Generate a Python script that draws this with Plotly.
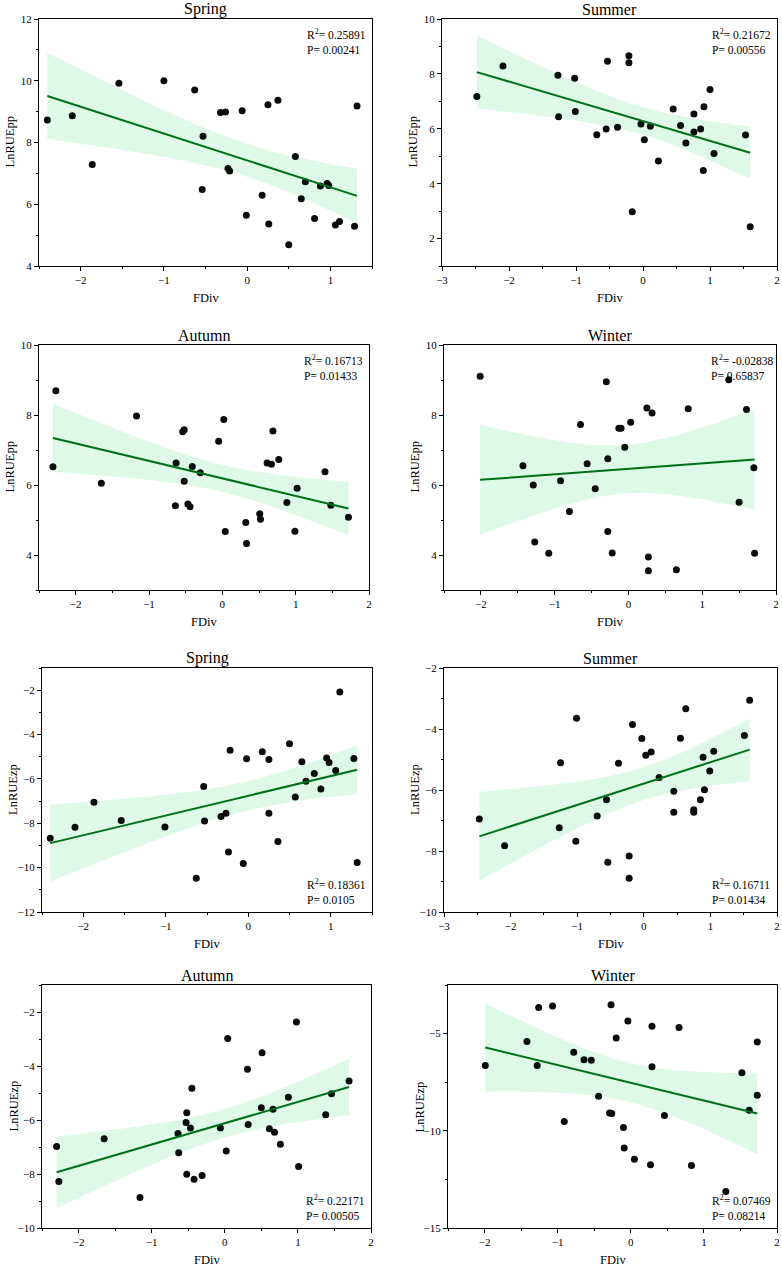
import numpy as np
import plotly.graph_objects as go

W, H = 782, 1267

# ---- data ----
seasons = ["Spring", "Summer", "Autumn", "Winter"]

spring_fdiv_pp = [-2.40, -2.10, -1.86, -1.54, -1.00, -0.63, -0.53, -0.54, -0.32, -0.26, -0.23, -0.21, -0.06, -0.01, 0.18,
                  0.25, 0.26, 0.37, 0.50, 0.58, 0.65, 0.70, 0.81, 0.88, 0.96, 0.98, 1.06, 1.11, 1.29, 1.32]
spring_pp = [8.73, 8.87, 7.29, 9.92, 10.0, 9.70, 8.20, 6.48, 8.97, 8.99, 7.16, 7.08, 9.03, 5.64, 6.29,
             9.22, 5.36, 9.37, 4.69, 7.55, 6.18, 6.73, 5.54, 6.59, 6.67, 6.61, 5.33, 5.44, 5.29, 9.18]

summer_fdiv_pp = [-2.48, -2.09, -1.27, -1.26, -1.02, -1.01, -0.69, -0.55, -0.53, -0.38, -0.21, -0.21, -0.16, -0.03, 0.02,
                  0.11, 0.23, 0.45, 0.56, 0.64, 0.76, 0.76, 0.86, 0.90, 0.91, 1.00, 1.06, 1.53, 1.60]
summer_pp = [7.18, 8.29, 7.95, 6.44, 7.84, 6.63, 5.78, 5.99, 8.46, 6.06, 8.66, 8.41, 2.98, 6.17, 5.60,
             6.09, 4.83, 6.72, 6.12, 5.48, 6.54, 5.88, 5.99, 4.48, 6.80, 7.43, 5.10, 5.77, 2.43]

autumn_fdiv_pp = [-2.31, -2.27, -1.65, -1.17, -0.64, -0.63, -0.54, -0.52, -0.52, -0.47, -0.44, -0.41, -0.30, -0.05, 0.02,
                  0.04, 0.32, 0.33, 0.51, 0.52, 0.61, 0.67, 0.69, 0.77, 0.88, 0.99, 1.02, 1.40, 1.48, 1.72]
autumn_pp = [6.52, 8.69, 6.05, 7.97, 5.41, 6.63, 7.52, 7.58, 6.11, 5.46, 5.38, 6.53, 6.35, 7.25, 7.87,
             4.67, 4.93, 4.33, 5.18, 5.02, 6.63, 6.59, 7.54, 6.73, 5.50, 4.68, 5.91, 6.38, 5.42, 5.08]

winter_fdiv_pp = [-2.01, -1.43, -1.29, -1.27, -1.08, -0.92, -0.80, -0.65, -0.56, -0.45, -0.30, -0.28, -0.28, -0.22, -0.13,
                  -0.10, -0.05, 0.03, 0.25, 0.27, 0.27, 0.32, 0.65, 0.81, 1.36, 1.50, 1.60, 1.70, 1.71]
winter_pp = [9.11, 6.55, 6.00, 4.37, 4.05, 6.12, 5.24, 7.73, 6.61, 5.89, 8.95, 6.75, 4.67, 4.06, 7.62,
             7.62, 7.08, 7.79, 8.20, 3.94, 3.55, 8.06, 3.58, 8.18, 9.01, 5.51, 8.16, 6.49, 4.05]

spring_fdiv_zp = [-2.40, -2.10, -1.87, -1.54, -1.01, -0.63, -0.54, -0.53, -0.33, -0.27, -0.24, -0.22, -0.06, -0.02, 0.17,
                  0.25, 0.25, 0.36, 0.50, 0.57, 0.65, 0.70, 0.80, 0.88, 0.95, 0.98, 1.06, 1.11, 1.28, 1.32]
spring_zp = [-8.68, -8.18, -7.05, -7.87, -8.17, -10.48, -6.34, -7.90, -7.70, -7.55, -9.30, -4.71, -9.81, -5.09, -4.78,
             -7.55, -5.12, -8.82, -4.41, -6.81, -5.23, -6.10, -5.76, -6.46, -5.06, -5.26, -5.62, -2.08, -5.08, -9.77]

summer_fdiv_zp = [-2.47, -2.09, -1.27, -1.25, -1.02, -1.01, -0.70, -0.56, -0.54, -0.38, -0.22, -0.22, -0.17, -0.03, 0.03,
                  0.11, 0.23, 0.45, 0.45, 0.55, 0.63, 0.75, 0.75, 0.85, 0.89, 0.91, 0.99, 1.05, 1.51, 1.59]
summer_zp = [-6.95, -7.83, -7.24, -5.11, -7.68, -3.65, -6.85, -6.32, -8.37, -5.12, -8.16, -8.89, -3.85, -4.31, -4.86,
             -4.75, -5.59, -6.04, -6.73, -4.30, -3.34, -6.65, -6.73, -6.32, -4.93, -5.99, -5.38, -4.73, -4.21, -3.06]

autumn_fdiv_zp = [-2.30, -2.27, -1.65, -1.16, -0.64, -0.63, -0.52, -0.53, -0.52, -0.47, -0.45, -0.42, -0.31, -0.06, 0.02,
                  0.04, 0.31, 0.32, 0.51, 0.50, 0.61, 0.66, 0.68, 0.76, 0.87, 0.98, 1.01, 1.38, 1.46, 1.70]
autumn_zp = [-6.98, -8.28, -6.69, -8.87, -6.50, -7.21, -8.01, -6.09, -5.73, -6.30, -4.82, -8.19, -8.06, -6.30, -7.15,
             -2.98, -4.12, -6.17, -3.51, -5.55, -6.32, -5.60, -6.45, -6.90, -5.16, -2.37, -7.72, -5.81, -5.03, -4.56]

winter_fdiv_zp = [-1.99, -1.42, -1.28, -1.26, -1.07, -0.91, -0.78, -0.64, -0.54, -0.44, -0.29, -0.26, -0.27, -0.20, -0.10,
                  -0.09, -0.04, 0.05, 0.27, 0.29, 0.29, 0.46, 0.66, 0.83, 1.30, 1.52, 1.62, 1.73, 1.73]
winter_zp = [-6.64, -5.41, -6.64, -3.66, -3.58, -9.52, -5.96, -6.34, -6.37, -8.22, -9.09, -9.11, -3.51, -5.22, -9.83,
             -10.89, -4.35, -11.46, -11.75, -4.62, -6.71, -9.21, -4.69, -11.78, -13.12, -7.02, -8.94, -8.17, -5.43]

# regression lines as drawn in the figure (intercept, slope)
fit_intercepts = [7.42, 6.28, 6.19, 6.46, -6.76, -5.79, -6.12, -7.53]
fit_slopes = [-0.87, -0.72, -0.50, 0.156, 0.89, 0.70, 0.79, -0.914]

r2_text = ["0.25891", "0.21672", "0.16713", "-0.02838", "0.18361", "0.16711", "0.22171", "0.07469"]
p_text = ["0.00241", "0.00556", "0.01433", "0.65837", "0.0105", "0.01434", "0.00505", "0.08214"]

x_ranges = [[-2.5, 1.5], [-3, 2], [-2.5, 2], [-2.5, 2], [-2.5, 1.5], [-3, 2], [-2.5, 2], [-2.5, 2]]
y_ranges = [[4, 12], [1, 10], [3, 10], [3, 10], [-12, -1], [-10, -2], [-10, -1], [-15, -2.5]]
y_dticks = [2, 2, 2, 2, 2, 2, 2, 5]

panels = [
    (spring_fdiv_pp, spring_pp, "LnRUEpp"),
    (summer_fdiv_pp, summer_pp, "LnRUEpp"),
    (autumn_fdiv_pp, autumn_pp, "LnRUEpp"),
    (winter_fdiv_pp, winter_pp, "LnRUEpp"),
    (spring_fdiv_zp, spring_zp, "LnRUEzp"),
    (summer_fdiv_zp, summer_zp, "LnRUEzp"),
    (autumn_fdiv_zp, autumn_zp, "LnRUEzp"),
    (winter_fdiv_zp, winter_zp, "LnRUEzp"),
]

# plot boxes in pixels: left, right, top, bottom
boxes = [
    (39, 372, 19, 266), (442, 777, 19, 266),
    (39, 369, 345, 590), (444, 776, 345, 590),
    (42, 372, 668, 912), (444, 777, 668, 912),
    (42, 371, 985, 1228), (448, 777, 985, 1228),
]

FONT = "Liberation Serif"
LINE_GREEN = "rgb(0,112,24)"
BAND = "rgba(222,249,232,1)"
T95 = 2.05


def px_x(p):
    return p / W


def px_y(p):
    return 1 - p / H


def fit_band(x, y, a, b):
    """Recta y banda de confianza del 95% de la media"""
    x = np.asarray(x, float)
    y = np.asarray(y, float)
    n = len(x)
    resid = y - (a + b * x)
    s = np.sqrt((resid ** 2).sum() / (n - 2))
    sxx = ((x - x.mean()) ** 2).sum()
    xs = np.linspace(x.min(), x.max(), 60)
    yfit = a + b * xs
    half = T95 * s * np.sqrt(1 / n + (xs - x.mean()) ** 2 / sxx)
    return xs, yfit, yfit - half, yfit + half


fig = go.Figure()
annotations = []

for i, (xv, yv, ylab) in enumerate(panels):
    k = i + 1
    xa = "x" if k == 1 else f"x{k}"
    ya = "y" if k == 1 else f"y{k}"
    xs, yfit, lo, hi = fit_band(xv, yv, fit_intercepts[i], fit_slopes[i])

    # banda de confianza
    fig.add_trace(go.Scatter(
        x=np.concatenate([xs, xs[::-1]]), y=np.concatenate([hi, lo[::-1]]),
        fill="toself", fillcolor=BAND, line=dict(width=0), mode="lines",
        hoverinfo="skip", showlegend=False, xaxis=xa, yaxis=ya))
    # puntos
    fig.add_trace(go.Scatter(
        x=xv, y=yv, mode="markers",
        marker=dict(size=7, color="rgb(8,12,10)"),
        showlegend=False, xaxis=xa, yaxis=ya))
    # recta de regresion
    fig.add_trace(go.Scatter(
        x=xs, y=yfit, mode="lines", line=dict(color=LINE_GREEN, width=2),
        showlegend=False, xaxis=xa, yaxis=ya))

    l, r, t, b = boxes[i]
    axis_common = dict(
        showline=True, linecolor="black", linewidth=1, mirror=True,
        ticks="outside", ticklen=4, tickwidth=1, tickcolor="black",
        showgrid=False, zeroline=False, automargin=False,
        tickfont=dict(family=FONT, size=11, color="black"),
    )
    fig.layout[f"xaxis{k}"] = dict(
        axis_common, domain=[px_x(l), px_x(r)], range=x_ranges[i],
        anchor=ya, dtick=1, tick0=0,
        minor=dict(ticks="outside", ticklen=2, dtick=0.5, tickcolor="black"))
    fig.layout[f"yaxis{k}"] = dict(
        axis_common, domain=[px_y(b), px_y(t)], range=y_ranges[i],
        anchor=xa, dtick=y_dticks[i], tick0=0,
        minor=dict(ticks="outside", ticklen=2, dtick=y_dticks[i] / 2, tickcolor="black"))

    # titulo de la estacion
    annotations.append(dict(
        text=seasons[i % 4], x=px_x((l + r) / 2), y=px_y(t - 10),
        xref="paper", yref="paper", showarrow=False, xanchor="center", yanchor="middle",
        font=dict(family=FONT, size=16, color="black")))
    # titulos de ejes
    annotations.append(dict(
        text="FDiv", x=px_x((l + r) / 2), y=px_y(b + 32),
        xref="paper", yref="paper", showarrow=False, xanchor="center", yanchor="middle",
        font=dict(family=FONT, size=12.5, color="black")))
    annotations.append(dict(
        text=ylab, x=px_x(l - 29), y=px_y((t + b) / 2), textangle=-90,
        xref="paper", yref="paper", showarrow=False, xanchor="center", yanchor="middle",
        font=dict(family=FONT, size=12.5, color="black")))
    # estadisticos
    stat = f"R<sup>2</sup>= {r2_text[i]}<br>P= {p_text[i]}"
    if i < 4:
        sy, anchor = px_y(t + 6), "top"
    else:
        sy, anchor = px_y(b - 4), "bottom"
    annotations.append(dict(
        text=stat, x=px_x(r - 67), y=sy, xref="paper", yref="paper",
        showarrow=False, xanchor="left", yanchor=anchor, align="left",
        font=dict(family=FONT, size=11.5, color="black")))

fig.update_layout(
    width=W, height=H,
    margin=dict(l=0, r=0, t=0, b=0),
    paper_bgcolor="white", plot_bgcolor="white",
    annotations=annotations,
    font=dict(family=FONT, color="black"),
)

fig.write_html("out.html", config={"displayModeBar": False},
               post_script="document.body.style.margin='0px';document.body.style.overflow='hidden';")
